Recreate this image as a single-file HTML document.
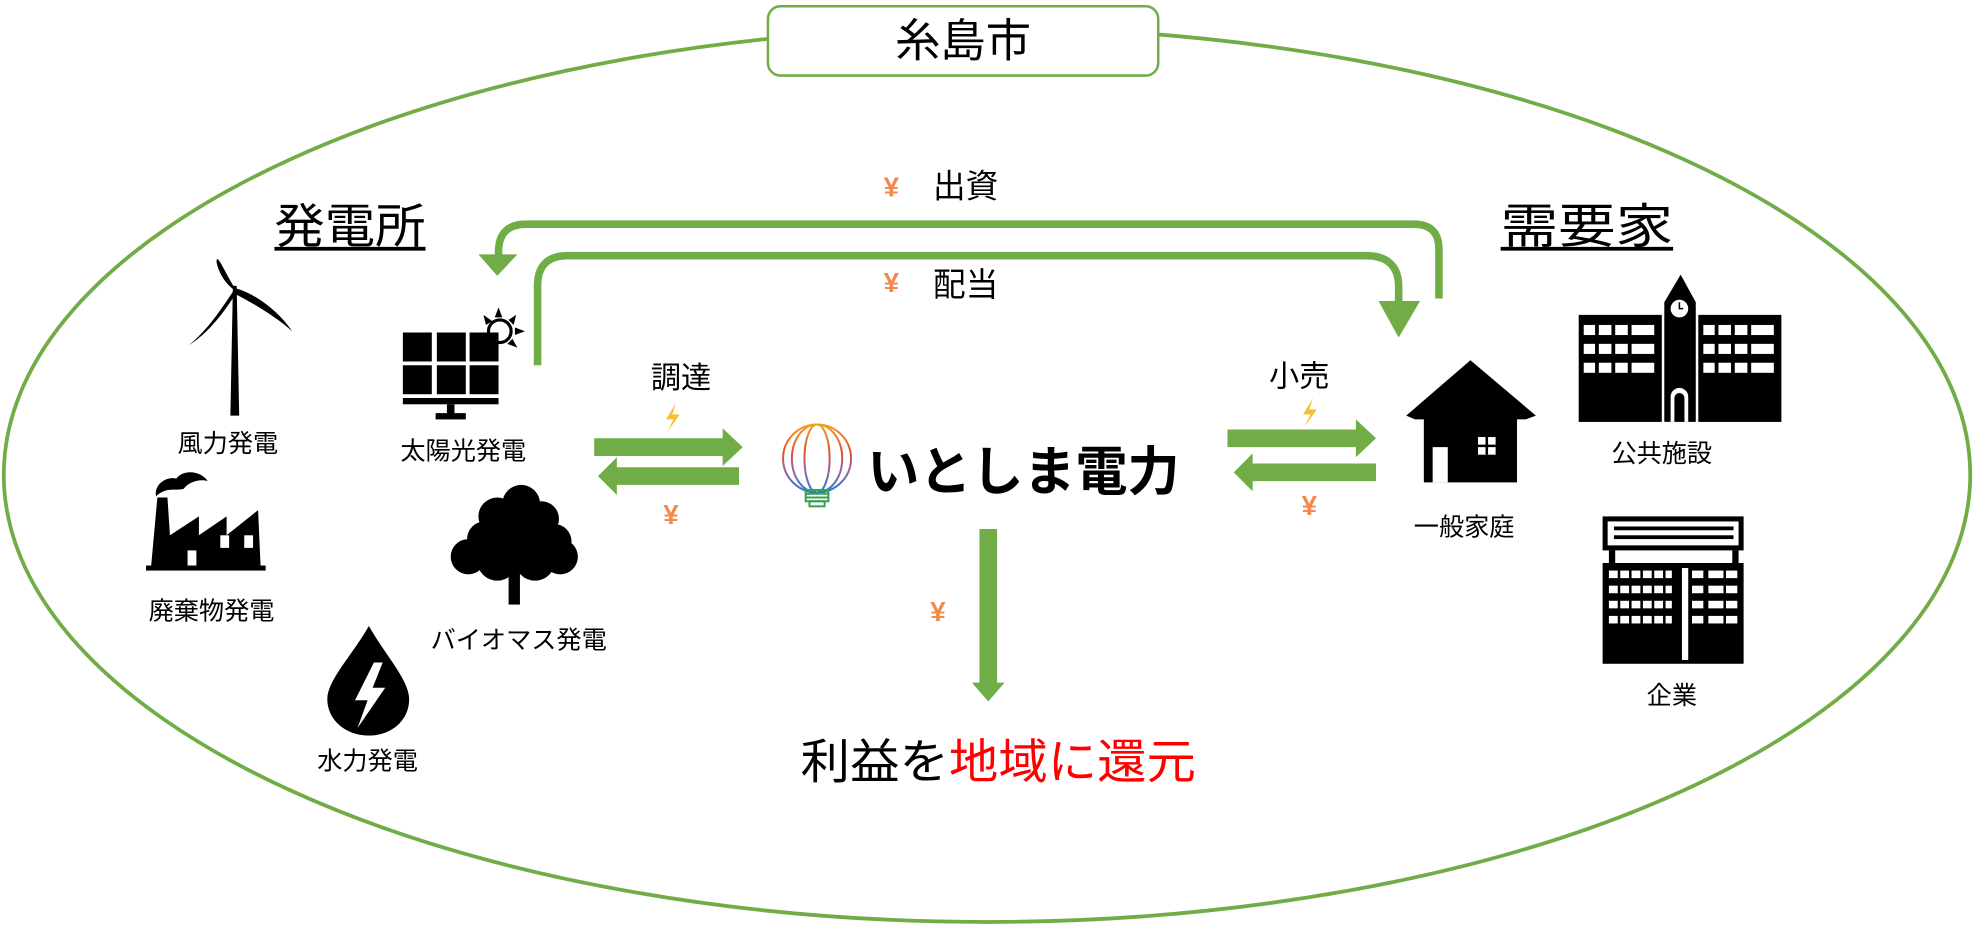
<!DOCTYPE html>
<html><head><meta charset="utf-8">
<style>
html,body{margin:0;padding:0;background:#fff;}
svg{display:block;}
text{font-family:"Liberation Sans","Noto Sans CJK JP",sans-serif;}
</style></head>
<body>
<svg width="1974" height="927" viewBox="0 0 1568 736" preserveAspectRatio="none" xmlns="http://www.w3.org/2000/svg">
<defs>
<linearGradient id="gl" x1="0" y1="0" x2="0" y2="1">
<stop offset="0" stop-color="#f0a020"/><stop offset="0.4" stop-color="#e05030"/><stop offset="0.65" stop-color="#a060a0"/><stop offset="1" stop-color="#2080d0"/>
</linearGradient>
</defs>
<ellipse cx="784" cy="377" rx="781" ry="355" fill="none" stroke="#70ad47" stroke-width="3"/>
<rect x="610" y="5" width="310" height="55" rx="10" fill="#fff" stroke="#70ad47" stroke-width="2"/>
<text x="765" y="45" font-size="36" text-anchor="middle">糸島市</text>
<text x="218" y="193" font-size="38" textLength="120" lengthAdjust="spacingAndGlyphs">発電所</text>
<rect x="218" y="196" width="120" height="3" fill="#000"/>
<text x="1192" y="193" font-size="38" textLength="137" lengthAdjust="spacingAndGlyphs">需要家</text>
<rect x="1192" y="196" width="137" height="3" fill="#000"/>
<path d="M1143 237 V198 Q1143 178 1123 178 H418 Q396 178 396 200 V203" fill="none" stroke="#70ad47" stroke-width="6"/>
<polygon points="380,202 411,202 395,219" fill="#70ad47"/>
<path d="M427 290 V227 Q427 203 451 203 H1085 Q1111 203 1111 228 V240" fill="none" stroke="#70ad47" stroke-width="6"/>
<polygon points="1095,239 1128,239 1111,268" fill="#70ad47"/>
<text x="708" y="156" font-size="22" font-weight="bold" fill="#f4894f" text-anchor="middle">¥</text>
<text x="741" y="157" font-size="26">出資</text>
<text x="708" y="232" font-size="22" font-weight="bold" fill="#f4894f" text-anchor="middle">¥</text>
<text x="741" y="235" font-size="26">配当</text>
<text x="541" y="308" font-size="24" text-anchor="middle">調達</text>
<path d="M537 320 L529 333 L535 333 L530 343 L540 329 L534 329 Z" fill="#f7c030"/>
<polygon points="472,348 574,348 574,340 590,355 574,370 574,362 472,362" fill="#70ad47"/>
<polygon points="587,371 490,371 490,363 475,378 490,393 490,385 587,385" fill="#70ad47"/>
<text x="533" y="416" font-size="22" font-weight="bold" fill="#f4894f" text-anchor="middle">¥</text>
<g stroke="url(#gl)" stroke-width="1.6" fill="none">
<circle cx="649" cy="364" r="27"/>
<ellipse cx="649" cy="364" rx="10" ry="27"/>
<ellipse cx="649" cy="364" rx="20" ry="27"/>
<line x1="649" y1="337" x2="649" y2="391"/>
<line x1="626" y1="350" x2="672" y2="350"/>
<line x1="622" y1="364" x2="676" y2="364"/>
<line x1="626" y1="378" x2="672" y2="378"/>
</g>
<g stroke="#3aa050" stroke-width="1.6" fill="none">
<rect x="640" y="389" width="18" height="9"/>
<line x1="640" y1="392" x2="658" y2="392"/><line x1="640" y1="395" x2="658" y2="395"/>
<rect x="643" y="398" width="12" height="4"/>
</g>
<text x="689" y="389" font-size="42" font-weight="bold" textLength="248" lengthAdjust="spacingAndGlyphs">いとしま電力</text>
<text x="1032" y="307" font-size="24" text-anchor="middle">小売</text>
<path d="M1043 316 L1035 329 L1041 329 L1036 339 L1046 325 L1040 325 Z" fill="#f7c030"/>
<polygon points="975,341 1077,341 1077,333 1093,348 1077,363 1077,355 975,355" fill="#70ad47"/>
<polygon points="1093,368 995,368 995,360 980,375 995,390 995,382 1093,382" fill="#70ad47"/>
<text x="1040" y="409" font-size="22" font-weight="bold" fill="#f4894f" text-anchor="middle">¥</text>
<rect x="778" y="420" width="14" height="123" fill="#70ad47"/>
<polygon points="772,542 798,542 785,557" fill="#70ad47"/>
<text x="745" y="493" font-size="22" font-weight="bold" fill="#f4894f" text-anchor="middle">¥</text>
<text x="636" y="618" font-size="38" textLength="314" lengthAdjust="spacingAndGlyphs">利益を<tspan fill="#ff0000">地域に還元</tspan></text>
<g fill="#000">
<path d="M185 227 L188 227 L190 330 L183 330 Z"/>
<path d="M186 228 C178 215 172 200 172 208 C174 218 180 226 186 230 Z"/>
<path d="M187 229 C200 232 220 245 232 263 C220 252 200 240 186 233 Z"/>
<path d="M186 230 C176 245 165 262 150 274 C165 265 178 248 188 232 Z"/>
</g>
<text x="181" y="359" font-size="20" text-anchor="middle">風力発電</text>
<g fill="#000">
<rect x="320" y="264" width="23" height="23"/><rect x="347" y="264" width="23" height="23"/><rect x="373" y="264" width="23" height="23"/>
<rect x="320" y="290" width="23" height="23"/><rect x="347" y="290" width="23" height="23"/><rect x="373" y="290" width="23" height="23"/>
<rect x="320" y="316" width="76" height="5"/>
<rect x="355" y="321" width="6" height="8"/><rect x="346" y="328" width="24" height="5"/>
<circle cx="397" cy="263" r="9" fill="none" stroke="#000" stroke-width="2.5"/>
<path d="M396 244 l3 8 h-6 z M410 250 l-2 8 -4 -4 z M417 263 l-8 3 v-6 z M411 276 l-8 -3 4 -4 z M384 250 l7 5 -5 3 z"/>
</g>
<text x="368" y="365" font-size="20" text-anchor="middle">太陽光発電</text>
<g fill="#000">
<path d="M120 450 L125 395 L133 395 L135 425 L158 410 L158 425 L180 410 L180 425 L205 405 L207 450 Z"/>
<path d="M124 394 C122 385 132 378 140 380 C146 372 160 374 165 382 C160 380 150 382 146 388 C140 390 132 386 124 394 Z"/>
<rect x="116" y="449" width="95" height="4"/>
</g>
<rect x="149" y="437" width="7" height="12" fill="#fff"/>
<rect x="175" y="425" width="7" height="10" fill="#fff"/>
<rect x="194" y="425" width="7" height="10" fill="#fff"/>
<text x="168" y="492" font-size="20" text-anchor="middle">廃棄物発電</text>
<g fill="#000">
<circle cx="414" cy="400" r="15"/><circle cx="395" cy="410" r="15"/><circle cx="430" cy="412" r="14"/>
<circle cx="385" cy="428" r="14"/><circle cx="440" cy="430" r="14"/><circle cx="408" cy="425" r="22"/>
<circle cx="372" cy="442" r="14"/><circle cx="445" cy="442" r="14"/><circle cx="395" cy="445" r="16"/><circle cx="425" cy="445" r="16"/>
<rect x="404" y="445" width="9" height="35"/>
</g>
<text x="412" y="515" font-size="20" text-anchor="middle">バイオマス発電</text>
<path d="M293 497 C280 520 260 540 260 555 C260 572 275 584 293 584 C311 584 325 572 325 555 C325 540 306 520 293 497 Z" fill="#000"/>
<polygon points="297,526 282,556 292,556 284,578 306,546 296,546 304,526" fill="#fff"/>
<text x="292" y="611" font-size="20" text-anchor="middle">水力発電</text>
<g fill="#000">
<polygon points="1168,286 1117,330 1124,333 1212,333 1220,330"/>
<rect x="1131" y="328" width="74" height="55"/>
</g>
<rect x="1138" y="355" width="12" height="28" fill="#fff"/>
<rect x="1174" y="347" width="14" height="14" fill="#fff"/>
<rect x="1180" y="347" width="2" height="14" fill="#000"/><rect x="1174" y="353" width="14" height="2" fill="#000"/>
<text x="1163" y="425" font-size="20" text-anchor="middle">一般家庭</text>
<g fill="#000">
<polygon points="1335,218 1322,240 1322,335 1347,335 1347,240"/>
<rect x="1254" y="250" width="66" height="85"/>
<rect x="1349" y="250" width="66" height="85"/>
</g>
<circle cx="1334" cy="245" r="7" fill="#fff"/>
<path d="M1334 240 v5 h3" stroke="#000" stroke-width="1.2" fill="none"/>
<path d="M1327 335 v-20 a7 7 0 0 1 14 0 v20 z" fill="#fff"/>
<path d="M1330 335 v-19 a4 4 0 0 1 8 0 v19 z" fill="#000"/>
<g fill="#fff">
<rect x="1258" y="258" width="56" height="8"/><rect x="1258" y="273" width="56" height="8"/><rect x="1258" y="288" width="56" height="8"/>
<rect x="1353" y="258" width="56" height="8"/><rect x="1353" y="273" width="56" height="8"/><rect x="1353" y="288" width="56" height="8"/>
</g>
<g fill="#000">
<rect x="1267" y="256" width="3" height="44"/><rect x="1280" y="256" width="3" height="44"/><rect x="1293" y="256" width="3" height="44"/>
<rect x="1362" y="256" width="3" height="44"/><rect x="1375" y="256" width="3" height="44"/><rect x="1388" y="256" width="3" height="44"/>
</g>
<text x="1320" y="367" font-size="20" text-anchor="middle">公共施設</text>
<g fill="#000">
<rect x="1273" y="410" width="112" height="27"/>
<rect x="1278" y="437" width="5" height="10"/><rect x="1376" y="437" width="5" height="10"/>
<rect x="1273" y="447" width="112" height="80"/>
</g>
<rect x="1277" y="414" width="104" height="19" fill="#fff"/>
<g fill="#000">
<rect x="1282" y="418" width="95" height="3"/><rect x="1282" y="425" width="95" height="3"/>
</g>
<rect x="1336" y="451" width="5" height="73" fill="#fff"/>
<g fill="#fff">
<rect x="1278" y="453" width="50" height="6"/><rect x="1278" y="465" width="50" height="6"/><rect x="1278" y="477" width="50" height="6"/><rect x="1278" y="489" width="50" height="6"/>
<rect x="1344" y="453" width="36" height="6"/><rect x="1344" y="465" width="36" height="6"/><rect x="1344" y="477" width="36" height="6"/><rect x="1344" y="489" width="36" height="6"/>
</g>
<g fill="#000">
<rect x="1285" y="452" width="2" height="45"/><rect x="1294" y="452" width="2" height="45"/><rect x="1303" y="452" width="2" height="45"/><rect x="1312" y="452" width="2" height="45"/><rect x="1321" y="452" width="2" height="45"/>
<rect x="1353" y="452" width="4" height="45"/><rect x="1369" y="452" width="2" height="45"/>
</g>
<text x="1328" y="559" font-size="20" text-anchor="middle">企業</text>
</svg>
</body></html>
